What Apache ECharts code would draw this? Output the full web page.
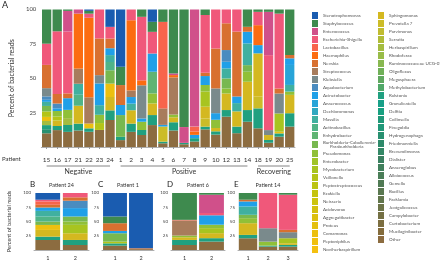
<!DOCTYPE html>
<html>
<head>
<meta charset="utf-8">
<script src="https://cdn.jsdelivr.net/npm/echarts@6/dist/echarts.min.js"></script>
<style>
html,body{margin:0;padding:0;background:#fff;}
#main{width:440px;height:261px;}
</style>
</head>
<body>
<div id="main"></div>
<script>
// genera in legend order (top of stack first)
var genera = ['Stenotrophomonas','Staphylococcus','Enterococcus','Escherichia-Shigella','Lactobacillus','Haemophilus','Nevskia','Streptococcus','Klebsiella','Aquabacterium','Acinetobacter','Anaerococcus','Dechloromonas','Massilia','Actinobacillus','Enhydrobacter','Burkholderia-Caballeronia-Paraburkholderia','Pseudomonas','Enterobacter','Mycobacterium','Veillonella','Peptostreptococcus','Ezakiella','Neisseria','Acidovorax','Aggregatibacter','Proteus','Comamonas','Peptoniphilus','Noviherbaspirillum',
  'Sphingomonas','Prevotella 7','Parvimonas','Serratia','Herbaspirillum','Rhodoferax','Ruminococcaceae UCG-014','Oligoflexus','Megasphaera','Methylobacterium','Ralstonia','Granulicatella','Delftia','Collinsella','Finegoldia','Hydrogenophaga','Friedmanniella','Brevundimonas','Dialister','Anaeroglobus','Alloiococcus','Gemella','Bacillus','Facklamia','Jeotgalicoccus','Campylobacter','Curtobacterium','Mucilaginibacter','Other'];
var colors = ['#1a5cb0','#3e8a4e','#d0508a','#f0587a','#f8644c','#fc6c10','#d87030','#a87c5c','#7a8a8c','#4a8cc0','#20a0e8','#28a4d8','#30a8c0','#40b0a0','#50b488','#60b474','#78b850','#90c038','#a0c428','#a8c420','#b4c418','#bcc414','#c4c410','#ccc410','#d4c010','#dcc010','#e4c010','#ecc010','#f0c010','#f4c010',
  '#d4b820','#ccbc28','#c0bc30','#b0bc38','#a4bc40','#98bc48','#88b850','#70b058','#60a860','#50a868','#20a080','#18a088','#18a080','#209878','#209878','#289070','#2e8a6a','#348866','#3a8060','#40805c','#4a7e58','#507a54','#5a7850','#62764c','#6c7448','#747044','#7c6e40','#846c3c','#8c6c40'];

var patientsA = ['15','16','17','21','22','23','24','1','2','3','4','5','6','7','8','9','10','12','13','14','18','19','20','25'];
var groupsA = [['Negative','15','24'],['Positive','1','14'],['Recovering','18','25']];

// panel A: % reads per patient
var panelA = {
  'Stenotrophomonas':   [0,0,0,0,1,0,12.6,41.6,0,0,9,0,0,0,0,0,0,0,0,0,0,0,0,0],
  'Staphylococcus':     [25,16,1,0,2,0,0,13.3,0,5.3,7.3,9,46.5,85.5,0,4,0,0,0,12.6,1.7,1.7,3,33],
  'Enterococcus':       [0,0,15,3,0,0,0,0,0,0,0,0,1.2,11.5,85,0,0,0,0,0,0,31.5,0,0],
  'Escherichia-Shigella':[15.5,46,45,0,3,21,8.5,0,7.8,46,15.8,0,0,0,0,42,28.4,10,16,0,9.7,54.5,54.5,0],
  'Lactobacillus':      [0,0,0,0,0,0,0,0,0,0,0,63,0,0,3.6,0,0,0,0,0,0,0,0,0],
  'Haemophilus':        [0,0,0,40,57.5,0,0,0,51,3.6,0,0,1.7,0,2.4,0,0,0,0,0,14.5,0,0,0],
  'Nevskia':            [17,7,3.5,0,0,26.7,7,14.5,0,0,0,0,0,0,0,2.4,29,19.4,47,3.6,0,0,3.6,2.4],
  'Streptococcus':      [0,0,0,11,19,0,0,0,4.8,0,0,12,27,0,0,0,0,0,0,0,0,0,0,0],
  'Klebsiella':         [6,0,0,0,0,6,0,0,0,24,0,0,0,0,0,0,18,0,0,0,0,3.6,14.5,0],
  'Aquabacterium':      [2.5,3.5,0,0,0,0,0,0,0,0,0,0,0,0,0,0,0,8.5,0,0,0,0,0,0],
  'Acinetobacter':      [1.5,2,8.5,0,0,15.8,5,7.3,4.8,2.4,13.3,1.2,0,0,2.4,6.5,4.8,4.8,4.8,8.5,6,0,0,4.8],
  'Anaerococcus':       [0,0,0,0,0,0,0,0,0,0,0,0,0,0,0,0,0,0,0,0,0,0,0,14.5],
  'Massilia':           [3,0,0,8,0,7,5,0,4.8,0,0,0,0,0,0,0,0,7.3,6,15.8,0,0,0,4.8],
  'Actinobacillus':     [0,0,0,8,0,0,6,0,0,0,0,0,0,0,0,0,0,0,0,0,0,0,0,0],
  'Enhydrobacter':      [0,0,0,0,0,0,0,0,0,0,15.8,0,0,0,0,0,0,0,0,0,0,0,0,0],
  'Burkholderia-Caballeronia-Paraburkholderia':[4,0,0,0,0,0,9.7,15.8,0,0,0,0,0,0,0,0,0,7.3,0,4.8,0,0,0,0],
  'Pseudomonas':        [0,4,6,0,0,6,0,0,0,6,7.3,0,2,0,0,4.8,6,3.6,0,7.3,0,0,0,2.4],
  'Mycobacterium':      [0,0,0,0,0,0,0,0,0,0,0,0,0,0,0,11,0,0,0,0,0,0,13.3,0],
  'Veillonella':        [4,3,0,0,0,5,0,0,0,0,0,0,0,0,0,0,0,0,0,0,0,0,0,0],
  'Comamonas':          [3,0,0,0,3.5,0,9.7,0,0,0,0,0,0,0,0,0,0,0,0,0,0,0,1.2,0],
  'Sphingomonas':       [0,4,0,13,0,0,9.7,0,9.7,0,8.5,0,3.6,0,0,8.5,2.4,12,11,20.6,31.5,3.6,0,13.3],
  'Prevotella 7':       [0,0,0,0,0,0,0,0,0,0,0,11,0,0,0,6,0,0,0,0,8.5,0,0,0],
  'Herbaspirillum':     [3,0,5,0,0,0,0,0,0,0,0,0,0,0,0,0,0,0,0,0,0,0,0,0],
  'Ralstonia':          [3,3,5,5,2.5,0,7,2.4,6,3.6,7.3,1.2,6,1,2.4,2,2.4,4.8,4.8,8.5,14.5,2,2.4,9.7],
  'Hydrogenophaga':     [3,0,0,0,0,0,0,0,0,0,0,0,0,0,0,0,0,0,0,0,0,0,0,0],
  'Other':              [10,12.4,11,12,11,12.4,19.6,5,11,8.7,16,2.7,12,2,4,12.8,9,22,10,18.4,13.6,3.1,7.5,14.8]
};

// panels B-E: per sample
var samplesB = ['1','2'];
var panelB = {
  'Stenotrophomonas':[11.8,0], 'Escherichia-Shigella':[3,7.6], 'Lactobacillus':[6,0], 'Nevskia':[4.7,5.9],
  'Aquabacterium':[0,13], 'Acinetobacter':[6,14.7], 'Massilia':[10,0], 'Actinobacillus':[8.8,0],
  'Burkholderia-Caballeronia-Paraburkholderia':[5.9,8.8], 'Pseudomonas':[0,5.9], 'Mycobacterium':[0,14.7],
  'Comamonas':[8.8,0], 'Sphingomonas':[11.8,11.8], 'Ralstonia':[5.9,8.8], 'Other':[17.6,8.8]
};
var samplesC = ['1','2'];
var panelC = {
  'Stenotrophomonas':[41,97], 'Staphylococcus':[11.8,0], 'Nevskia':[13.5,1.5], 'Acinetobacter':[4,0],
  'Veillonella':[3,0], 'Burkholderia-Caballeronia-Paraburkholderia':[14.7,0], 'Ralstonia':[4,0], 'Other':[7.6,1.5]
};
var samplesD = ['1','2'];
var panelD = {
  'Staphylococcus':[47,3], 'Enterococcus':[0,32], 'Escherichia-Shigella':[0,4], 'Lactobacillus':[1,0],
  'Streptococcus':[26.5,0], 'Acinetobacter':[0,16.5], 'Pseudomonas':[3,6], 'Mycobacterium':[0,8.8],
  'Sphingomonas':[4.7,8.8], 'Ralstonia':[8.8,6], 'Other':[8.8,14.7]
};
var samplesE = ['1','2','3'];
var panelE = {
  'Staphylococcus':[11.8,0,3], 'Escherichia-Shigella':[0,61.8,61.8], 'Nevskia':[3,0,4], 'Klebsiella':[0,23.5,10.6],
  'Acinetobacter':[8.8,0,0], 'Massilia':[14.7,0,0], 'Burkholderia-Caballeronia-Paraburkholderia':[5.9,0,0],
  'Pseudomonas':[8.8,7,0], 'Mycobacterium':[0,0,8.8], 'Sphingomonas':[20.6,0,3], 'Ralstonia':[5.9,1.8,3],
  'Other':[20.6,5.9,5.9]
};

var FONT = 'Lato';
var chart = echarts.init(document.getElementById('main'), null, {renderer:'canvas'});

var panels = [
  {cats:patientsA, data:panelA, grid:{left:28, top:9.5, width:267, height:137.5}, gap:'12%', fs:6.5, yfs:6},
  {cats:samplesB, data:panelB, grid:{left:34, top:193, width:55, height:57}, gap:'10%', fs:5.5, yfs:4.5, letter:'B', sub:'Patient 24'},
  {cats:samplesC, data:panelC, grid:{left:102, top:193, width:52, height:57}, gap:'8%', fs:5.5, yfs:4.5, letter:'C', sub:'Patient 1'},
  {cats:samplesD, data:panelD, grid:{left:171, top:193, width:54, height:57}, gap:'8%', fs:5.5, yfs:4.5, letter:'D', sub:'Patient 6'},
  {cats:samplesE, data:panelE, grid:{left:238, top:193, width:60, height:57}, gap:'8%', fs:5.5, yfs:4.5, letter:'E', sub:'Patient 14'}
];

var grids = [], xAxes = [], yAxes = [], series = [], titles = [];
titles.push({text:'A', left:2, top:1, padding:0, textStyle:{fontFamily:FONT, fontSize:9, fontWeight:'normal', color:'#222'}});

panels.forEach(function(p, i){
  grids.push(p.grid);
  var n = p.cats.length;
  var sums = [];
  for (var k = 0; k < n; k++) {
    var s = 0;
    Object.keys(p.data).forEach(function(g){ s += p.data[g][k]; });
    sums.push(s);
  }
  xAxes.push({
    type:'category', gridIndex:i, data:p.cats, offset: i === 0 ? 5 : 2,
    axisLine:{lineStyle:{color:'#999', width:0.8}},
    axisTick:{show:i === 0, alignWithLabel:true, length:2, lineStyle:{color:'#999'}},
    axisLabel:{fontFamily:FONT, fontSize:p.fs, color:'#333', margin:i === 0 ? 4 : 3, interval:0}
  });
  var y = {
    type:'value', gridIndex:i, min:0, max:100, interval:25,
    axisLine:{show:false}, axisTick:{show:false}, splitLine:{show:false},
    axisLabel:{fontFamily:FONT, fontSize:p.yfs, color:'#444', margin:i === 0 ? 5 : 3, showMinLabel:false}
  };
  if (i === 0) {
    y.name = 'Percent of bacterial reads'; y.nameLocation = 'middle'; y.nameGap = 16;
    y.nameTextStyle = {fontFamily:FONT, fontSize:7, color:'#333'};
  } else if (i === 1) {
    y.name = 'Percent of bacterial reads'; y.nameLocation = 'middle'; y.nameGap = 22;
    y.nameTextStyle = {fontFamily:FONT, fontSize:5.5, color:'#333'};
  }
  yAxes.push(y);
  if (p.letter) {
    var cx = p.grid.left + p.grid.width / 2;
    titles.push({text:p.letter, left:p.grid.left - 4, top:180, padding:0, textStyle:{fontFamily:FONT, fontSize:8, fontWeight:'normal', color:'#222'}});
    titles.push({text:p.sub, left:cx, textAlign:'center', top:182, padding:0, textStyle:{fontFamily:FONT, fontSize:5.5, fontWeight:'normal', color:'#333'}});
  }
  // bottom of stack = last legend item, so walk genera backwards
  for (var j = genera.length - 1; j >= 0; j--) {
    var g = genera[j];
    var vals = p.data[g];
    series.push({
      type:'bar', name:g, stack:'s' + i, xAxisIndex:i, yAxisIndex:i,
      barCategoryGap:p.gap, silent:true,
      itemStyle:{color:colors[j]},
      data: vals ? vals.map(function(v, k){ return v * 100 / sums[k]; }) : new Array(n).fill(0)
    });
  }
});

var legendText = {fontFamily:FONT, fontSize:4.5, color:'#555', lineHeight:4};
function legendCol(names, left) {
  return {
    orient:'vertical', left:left, top:12, padding:0, itemWidth:6, itemHeight:7, itemGap:1,
    selectedMode:false, icon:'rect', data:names, textStyle:legendText,
    formatter:function(name){
      return name === 'Burkholderia-Caballeronia-Paraburkholderia' ? 'Burkholderia-Caballeronia-\n      Paraburkholderia' : name;
    }
  };
}

chart.setOption({
  animation:false,
  backgroundColor:'#fff',
  title:titles,
  legend:[legendCol(genera.slice(0, 30), 312), legendCol(genera.slice(30), 378)],
  grid:grids, xAxis:xAxes, yAxis:yAxes, series:series
});

// patient group brackets under panel A
var graphics = [{type:'text', left:2, top:156, style:{text:'Patient', font:'6px ' + FONT, fill:'#333'}}];
groupsA.forEach(function(gr){
  var x1 = chart.convertToPixel({xAxisIndex:0}, gr[1]);
  var x2 = chart.convertToPixel({xAxisIndex:0}, gr[2]);
  graphics.push({type:'line', shape:{x1:x1, y1:166, x2:x2, y2:166}, style:{stroke:'#666', lineWidth:0.8}});
  graphics.push({type:'text', x:(x1 + x2) / 2, y:168, style:{text:gr[0], font:'7px ' + FONT, fill:'#333', textAlign:'center'}});
});
chart.setOption({graphic:graphics});
</script>
</body>
</html>
